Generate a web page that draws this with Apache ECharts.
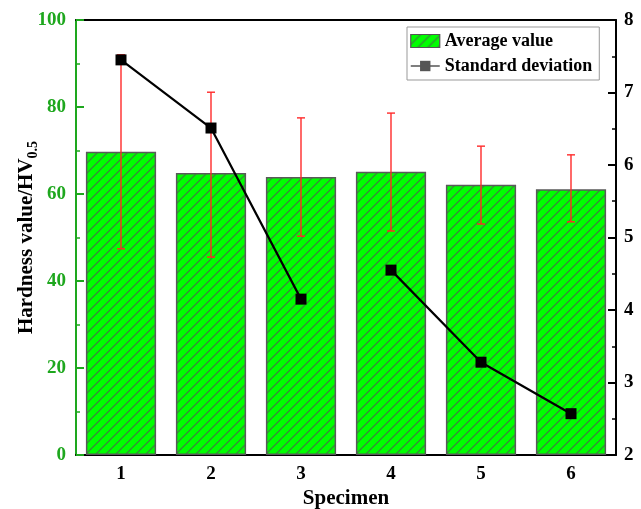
<!DOCTYPE html>
<html>
<head>
<meta charset="utf-8">
<script src="https://cdn.jsdelivr.net/npm/echarts@6/dist/echarts.min.js"></script>
<style>
  html, body { margin: 0; padding: 0; background: #fff; }
  #chart { width: 641px; height: 509px; }
</style>
</head>
<body>
<div id="chart"></div>
<script>
// Hardness of six specimens: mean value (bars), spread (error bars) and standard deviation (line)
const specimens = ['1', '2', '3', '4', '5', '6'];
const avgHardness = [69.7, 64.8, 63.9, 65.1, 62.1, 61.1];
const errLow = [47.4, 45.5, 50.3, 51.5, 53.1, 53.6];
const errHigh = [92.0, 83.4, 77.5, 78.6, 71.0, 69.0];
const stdDev = [7.45, 6.51, 4.15, 4.55, 3.28, 2.57];
// the deviation curve is drawn in two runs: specimens 1-3 and 4-6
const runBreak = 3;

const leftTicks = { min: 0, max: 100, interval: 20 };
const rightTicks = { min: 2, max: 8, interval: 1 };

const FONT = '"Liberation Serif", "Times New Roman", serif';
const GREEN_AXIS = '#1ea71e';

// diagonal hatch tile for the bars
function hatchTile() {
  const s = 10;
  const c = document.createElement('canvas');
  c.width = s; c.height = s;
  const g = c.getContext('2d');
  g.fillStyle = '#00ff00';
  g.fillRect(0, 0, s, s);
  g.strokeStyle = '#3a8a3a';
  g.lineWidth = 1.3;
  g.beginPath();
  g.moveTo(0, s); g.lineTo(s, 0);
  g.moveTo(-2, 2); g.lineTo(2, -2);
  g.moveTo(s - 2, s + 2); g.lineTo(s + 2, s - 2);
  g.stroke();
  return c;
}
const hatch = { image: hatchTile(), repeat: 'repeat' };

const firstRun = stdDev.map((v, i) => (i < runBreak ? v : null));
const secondRun = stdDev.map((v, i) => (i >= runBreak ? v : null));
const errData = specimens.map((_, i) => [i, errLow[i], errHigh[i]]);

const chart = echarts.init(document.getElementById('chart'), null, { renderer: 'canvas' });

const lineSeries = (data) => ({
  name: 'Standard deviation',
  type: 'line',
  yAxisIndex: 1,
  data: data,
  symbol: 'rect',
  symbolSize: 11,
  connectNulls: false,
  lineStyle: { color: '#000', width: 2.2 },
  itemStyle: { color: '#000' },
  z: 5
});

chart.setOption({
  animation: false,
  grid: { left: 76, right: 25, top: 20, bottom: 54, outerBoundsMode: 'none', containLabel: false },
  legend: {
    orient: 'vertical',
    left: 407,
    top: 27,
    padding: [5, 7, 5, 3],
    itemGap: 7,
    itemWidth: 29,
    itemHeight: 13,
    borderColor: '#999',
    borderWidth: 1,
    textStyle: { fontFamily: FONT, fontWeight: 'bold', fontSize: 18, color: '#000' },
    data: [
      { name: 'Average value', icon: 'rect', itemStyle: { borderColor: '#555', borderWidth: 1.2 } },
      { name: 'Standard deviation', itemStyle: { color: '#555' }, lineStyle: { color: '#555', width: 1.5 } }
    ]
  },
  xAxis: [
    {
      type: 'category',
      data: specimens,
      position: 'bottom',
      name: 'Specimen',
      nameLocation: 'middle',
      nameGap: 33,
      nameMoveOverlap: false,
      nameTextStyle: { fontFamily: FONT, fontWeight: 'bold', fontSize: 21, color: '#000' },
      axisLine: { lineStyle: { color: '#000', width: 2 } },
      axisTick: { inside: true, alignWithLabel: true, length: 7, lineStyle: { color: '#000', width: 2 } },
      axisLabel: { fontFamily: FONT, fontWeight: 'bold', fontSize: 19, color: '#000', margin: 10 },
      splitLine: { show: false }
    },
    {
      type: 'category',
      data: specimens,
      position: 'bottom',
      axisLine: { show: false },
      axisTick: { inside: true, length: 4, lineStyle: { color: '#000', width: 1.5 } },
      axisLabel: { show: false },
      splitLine: { show: false }
    },
    {
      type: 'category',
      data: specimens,
      position: 'top',
      axisLine: { lineStyle: { color: '#000', width: 2 } },
      axisTick: { show: false },
      axisLabel: { show: false },
      splitLine: { show: false }
    }
  ],
  yAxis: [
    {
      type: 'value',
      min: leftTicks.min,
      max: leftTicks.max,
      interval: leftTicks.interval,
      position: 'left',
      name: '{a|Hardness value/HV}{b|0.5}',
      nameLocation: 'middle',
      nameRotate: 90,
      nameGap: 34,
      nameMoveOverlap: false,
      nameTextStyle: {
        rich: {
          a: { fontFamily: FONT, fontWeight: 'bold', fontSize: 21, color: '#000', lineHeight: 30 },
          b: { fontFamily: FONT, fontWeight: 'bold', fontSize: 14, color: '#000', lineHeight: 30, padding: [12, 0, 0, 0] }
        }
      },
      axisLine: { show: true, lineStyle: { color: GREEN_AXIS, width: 2 } },
      axisTick: { show: true, inside: true, length: 8, lineStyle: { color: GREEN_AXIS, width: 2 } },
      minorTick: { show: true, splitNumber: 2, length: 4, lineStyle: { color: GREEN_AXIS, width: 1.5 } },
      axisLabel: { fontFamily: FONT, fontWeight: 'bold', fontSize: 19, color: GREEN_AXIS, margin: 10 },
      splitLine: { show: false }
    },
    {
      type: 'value',
      min: rightTicks.min,
      max: rightTicks.max,
      interval: rightTicks.interval,
      position: 'right',
      axisLine: { show: true, lineStyle: { color: '#000', width: 2 } },
      axisTick: { show: true, inside: true, length: 8, lineStyle: { color: '#000', width: 2 } },
      minorTick: { show: true, splitNumber: 2, length: 4, lineStyle: { color: '#000', width: 1.5 } },
      axisLabel: { fontFamily: FONT, fontWeight: 'bold', fontSize: 19, color: '#000', margin: 8 },
      splitLine: { show: false }
    }
  ],
  series: [
    {
      name: 'Average value',
      type: 'bar',
      yAxisIndex: 0,
      data: avgHardness,
      barWidth: '78%',
      itemStyle: { color: hatch, borderColor: '#5a5a5a', borderWidth: 1.5 },
      z: 2
    },
    {
      name: 'spread',
      type: 'custom',
      yAxisIndex: 0,
      data: errData,
      z: 3,
      renderItem: function (params, api) {
        const x = api.value(0);
        const lo = api.coord([x, api.value(1)]);
        const hi = api.coord([x, api.value(2)]);
        const cap = 4;
        const style = { stroke: '#ff2a2a', lineWidth: 1.4 };
        return {
          type: 'group',
          children: [
            { type: 'line', shape: { x1: lo[0], y1: lo[1], x2: hi[0], y2: hi[1] }, style: style },
            { type: 'line', shape: { x1: hi[0] - cap, y1: hi[1], x2: hi[0] + cap, y2: hi[1] }, style: style },
            { type: 'line', shape: { x1: lo[0] - cap, y1: lo[1], x2: lo[0] + cap, y2: lo[1] }, style: style }
          ]
        };
      }
    },
    lineSeries(firstRun),
    lineSeries(secondRun)
  ]
});
</script>
</body>
</html>
